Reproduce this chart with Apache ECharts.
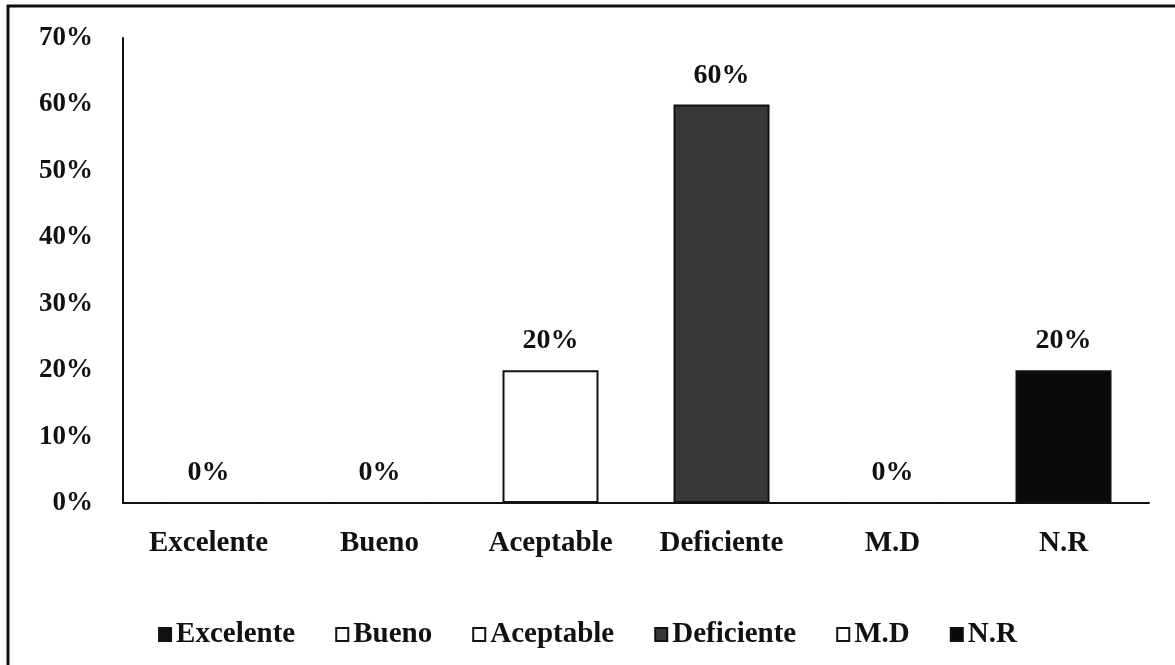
<!DOCTYPE html>
<html>
<head>
<meta charset="utf-8">
<script src="https://cdn.jsdelivr.net/npm/echarts@6/dist/echarts.min.js"></script>
<style>html,body{margin:0;padding:0;background:#fff}#c{width:1175px;height:665px}</style>
</head>
<body>
<div id="c"></div>
<script>
const categories = ['Excelente', 'Bueno', 'Aceptable', 'Deficiente', 'M.D', 'N.R'];
const values = [0, 0, 20, 60, 0, 20];
const yTicks = [0, 10, 20, 30, 40, 50, 60, 70];
const fills = ['#111111', '#ffffff', '#ffffff', '#383838', '#ffffff', '#0a0a0a'];
const borders = ['#111111', '#111111', '#111111', '#111111', '#111111', '#111111'];

const FONT = '"Liberation Serif", "Times New Roman", serif';

const series = categories.map((name, i) => ({
  name: name,
  type: 'bar',
  stack: 'all',
  barWidth: 96,
  data: categories.map((_, j) => j === i ? values[i] : null),
  itemStyle: { color: fills[i], borderColor: borders[i], borderWidth: 2 },
  label: {
    show: true, position: 'top', distance: 15,
    formatter: p => p.value + '%',
    fontFamily: FONT, fontSize: 28, fontWeight: 'bold', color: '#111'
  }
}));

const chart = echarts.init(document.getElementById('c'));
chart.setOption({
  animation: false,
  backgroundColor: '#fff',
  grid: { left: 123, right: 26, top: 38, bottom: 162 },
  xAxis: {
    type: 'category', data: categories,
    axisLine: { lineStyle: { color: '#111', width: 2 } },
    axisTick: { show: false },
    axisLabel: { margin: 26, fontFamily: FONT, fontSize: 29, fontWeight: 'bold', color: '#111' }
  },
  yAxis: {
    type: 'value', min: yTicks[0], max: yTicks[yTicks.length - 1], interval: 10,
    axisLine: { show: true, lineStyle: { color: '#111', width: 2 } },
    axisTick: { show: false },
    splitLine: { show: false },
    axisLabel: { margin: 30, fontFamily: FONT, fontSize: 27, fontWeight: 'bold', color: '#111', formatter: v => v + '%' }
  },
  legend: {
    top: 615, left: 'center',
    icon: 'rect',
    itemWidth: 12, itemHeight: 13, itemGap: 40,
    textStyle: { fontFamily: FONT, fontSize: 29, fontWeight: 'bold', color: '#111' },
    data: categories
  },
  graphic: [{
    type: 'polyline',
    shape: { points: [[8, 665], [8, 6], [1175, 6]] },
    style: { stroke: '#111', lineWidth: 3, fill: null }
  }],
  series: series
});
</script>
</body>
</html>
